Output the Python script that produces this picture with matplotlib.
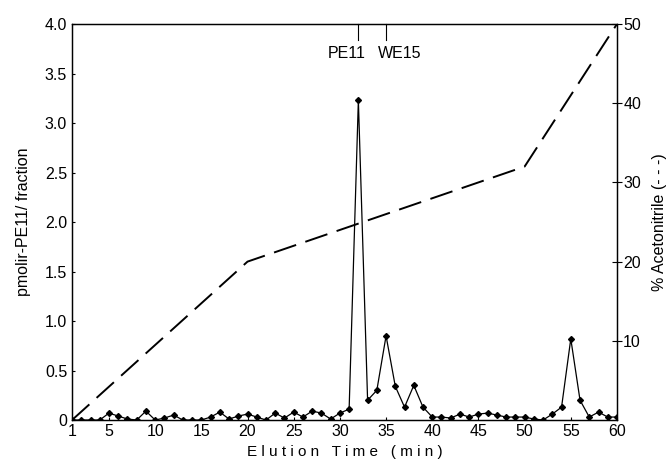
from matplotlib import pyplot as plt
import numpy as np

plt.rcParams['font.family'] = ['Liberation Sans', 'DejaVu Sans']

# elution minutes and pmol per fraction
minutes = list(range(1, 61))
pmol = [0, 0, 0, 0, 0.07, 0.04, 0.01, 0, 0.09, 0,
        0.02, 0.05, 0, 0, 0, 0.03, 0.08, 0.01, 0.04, 0.06,
        0.03, 0, 0.07, 0.02, 0.08, 0.03, 0.09, 0.07, 0.01, 0.07,
        0.11, 3.23, 0.20, 0.30, 0.85, 0.34, 0.13, 0.35, 0.13, 0.03,
        0.03, 0.02, 0.06, 0.03, 0.06, 0.07, 0.05, 0.03, 0.03, 0.03,
        0.01, 0, 0.06, 0.13, 0.82, 0.20, 0.03, 0.08, 0.03, 0.03]

# acetonitrile gradient
grad_t = [1, 20, 50, 60]
grad_pct = [0, 20, 32, 50]

# marker positions on top axis
mark_names = ['PE11', 'WE15']
mark_t = [32, 35]

fig = plt.figure(figsize=(6.67, 4.67), dpi=100)
ax = fig.add_axes([0.108, 0.1006, 0.817, 0.848])

ax.plot(minutes, pmol, color='black', lw=0.9, marker='D', ms=3)
ax.set_xlim(1, 60)
ax.set_ylim(0, 4.0)
ax.set_xticks([1, 5, 10, 15, 20, 25, 30, 35, 40, 45, 50, 55, 60])
ax.set_yticks(np.arange(0, 4.01, 0.5))
ax.set_yticklabels(['0'] + ['%.1f' % v for v in np.arange(0.5, 4.01, 0.5)])
ax.tick_params(axis='both', direction='in', length=2, labelsize=11.5)
ax.tick_params(axis='x', pad=3)
ax.set_xlabel('E l u t i o n   T i m e   ( m i n )', fontsize=11, labelpad=4)
ax.set_ylabel('pmolir-PE11/ fraction', fontsize=11.5, labelpad=10)
for s in ax.spines.values():
    s.set_linewidth(0.9)

# hanging ticks from the top with labels beside them
for name, t, ha, dx in zip(mark_names, mark_t, ['right', 'left'], [0.8, -0.9]):
    ax.plot([t, t], [4.0, 3.84], color='black', lw=0.8, clip_on=False)
    ax.text(t + dx, 3.78, name, ha=ha, va='top', fontsize=11.5)

ax2 = ax.twinx()
ax2.plot(grad_t, grad_pct, color='black', lw=1.4, dashes=(12, 5))
ax2.set_ylim(0, 50)
ax2.set_yticks([10, 20, 30, 40, 50])
ax2.tick_params(axis='y', direction='inout', length=7, labelsize=11.5, pad=1)
ax2.set_ylabel('% Acetonitrile (- - -)', fontsize=11.5, labelpad=8)
for s in ax2.spines.values():
    s.set_linewidth(0.9)

fig.savefig('out.png', dpi=100)
